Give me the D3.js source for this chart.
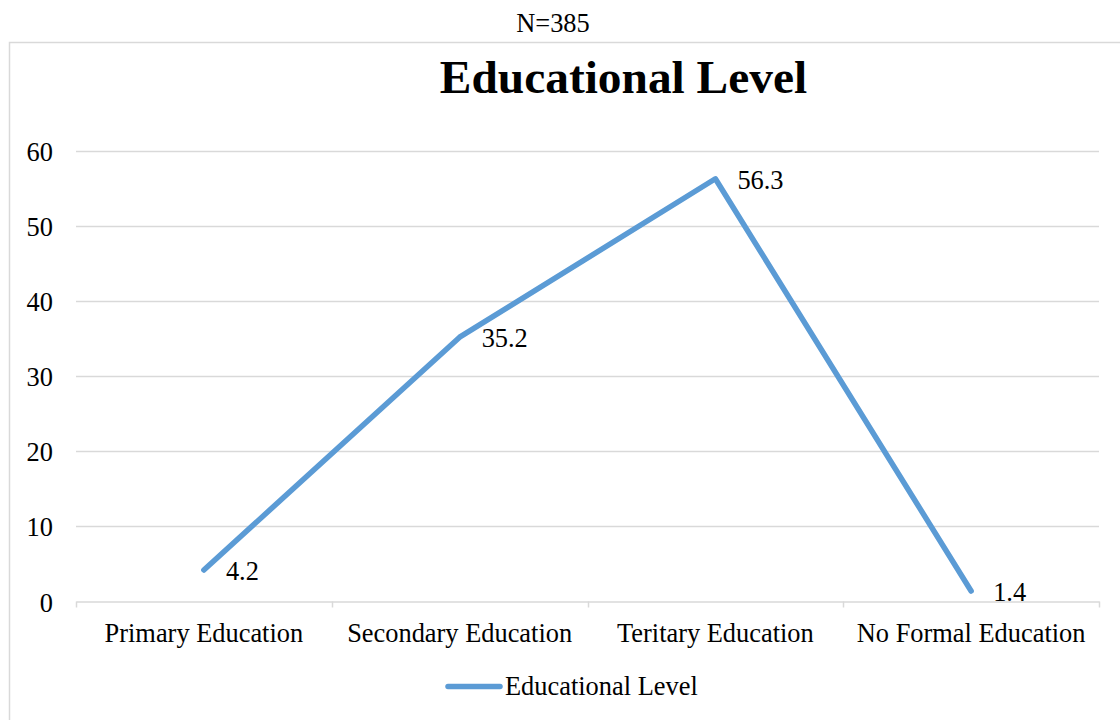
<!DOCTYPE html>
<html>
<head>
<meta charset="utf-8">
<script src="https://cdn.jsdelivr.net/npm/d3@7/dist/d3.min.js"></script>
<style>
  html, body { margin: 0; padding: 0; background: #ffffff; }
  svg { display: block; }
  text { font-family: "Liberation Serif", "Times New Roman", serif; fill: #000; }
</style>
</head>
<body>
<svg id="chart" width="1120" height="720"></svg>
<script>
const categories = ["Primary Education", "Secondary Education", "Teritary Education", "No Formal Education"];
const values = [4.2, 35.2, 56.3, 1.4];
const yTicks = [0, 10, 20, 30, 40, 50, 60];
const seriesName = "Educational Level";
const titleText = "Educational Level";
const noteText = "N=385";

const svg = d3.select("#chart");
const lineColor = "#5B9BD5";
const gridColor = "#d9d9d9";
const fontSize = 26.4;
const serif = "Liberation Serif, Times New Roman, serif";

// chart frame
svg.append("rect")
  .attr("x", 9.5).attr("y", 42.5)
  .attr("width", 1140).attr("height", 700)
  .attr("fill", "none").attr("stroke", gridColor).attr("stroke-width", 1.5);

// sample size note above the frame
svg.append("text")
  .attr("x", 553).attr("y", 32)
  .attr("text-anchor", "middle")
  .attr("font-size", fontSize)
  .text(noteText);

svg.append("text")
  .attr("x", 623.5).attr("y", 93)
  .attr("text-anchor", "middle")
  .attr("font-size", 47.4).attr("font-weight", "bold")
  .text(titleText);

const plotLeft = 76, plotRight = 1099, plotTop = 151, plotBottom = 601.5;

const x = d3.scaleBand().domain(categories).range([plotLeft, plotRight]);
const y = d3.scaleLinear().domain([0, 60]).range([plotBottom, plotTop]);

// horizontal gridlines
svg.append("g")
  .selectAll("line")
  .data(yTicks.filter(t => t > 0))
  .join("line")
  .attr("x1", plotLeft).attr("x2", plotRight)
  .attr("y1", d => Math.round(y(d)) + 0.5).attr("y2", d => Math.round(y(d)) + 0.5)
  .attr("stroke", gridColor).attr("stroke-width", 1.5);

// y axis labels
const yAxis = d3.axisLeft(y).tickValues(yTicks).tickSize(0).tickPadding(23);
const gy = svg.append("g").attr("transform", `translate(${plotLeft},0)`).call(yAxis);
gy.select(".domain").remove();
gy.selectAll("text")
  .attr("font-family", serif)
  .attr("font-size", fontSize).attr("fill", "#000")
  .attr("dy", "0.36em");

// category axis
const xAxis = d3.axisBottom(x).tickSize(0).tickPadding(22);
const gx = svg.append("g").attr("transform", `translate(0,${plotBottom})`).call(xAxis);
gx.select(".domain").attr("stroke", gridColor).attr("stroke-width", 1.5);
gx.selectAll("text")
  .attr("font-family", serif)
  .attr("font-size", fontSize).attr("fill", "#000");

// tick marks at category boundaries
const boundaries = categories.map(c => x(c)).concat([x(categories[categories.length - 1]) + x.bandwidth()]);
svg.append("g")
  .selectAll("line")
  .data(boundaries)
  .join("line")
  .attr("x1", d => Math.round(d) + 0.5).attr("x2", d => Math.round(d) + 0.5)
  .attr("y1", plotBottom).attr("y2", plotBottom + 6)
  .attr("stroke", gridColor).attr("stroke-width", 1.5);

const cx = c => x(c) + x.bandwidth() / 2;

const line = d3.line()
  .x((d, i) => cx(categories[i]))
  .y(d => y(d));

svg.append("path")
  .datum(values)
  .attr("d", line)
  .attr("fill", "none")
  .attr("stroke", lineColor)
  .attr("stroke-width", 5.5)
  .attr("stroke-linejoin", "round")
  .attr("stroke-linecap", "round");

// value labels to the right of each point
svg.append("g")
  .selectAll("text")
  .data(values)
  .join("text")
  .attr("x", (d, i) => cx(categories[i]) + 22)
  .attr("y", d => y(d) + 10)
  .attr("font-size", fontSize)
  .text(d => d.toFixed(1));

// legend
const legendY = 686.5;
svg.append("line")
  .attr("x1", 448).attr("x2", 500)
  .attr("y1", legendY).attr("y2", legendY)
  .attr("stroke", lineColor).attr("stroke-width", 5.5)
  .attr("stroke-linecap", "round");
svg.append("text")
  .attr("x", 505).attr("y", 695)
  .attr("font-size", fontSize)
  .text(seriesName);
</script>
</body>
</html>
